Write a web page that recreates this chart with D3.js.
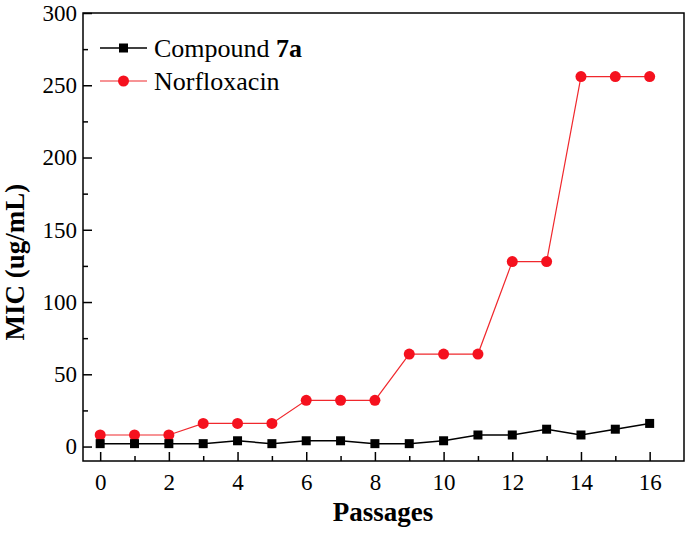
<!DOCTYPE html>
<html><head><meta charset="utf-8">
<script src="https://cdn.jsdelivr.net/npm/d3@7/dist/d3.min.js"></script>
<style>body{margin:0;background:#fff}svg{display:block}</style>
</head><body>
<script>
const passages = [0,1,2,3,4,5,6,7,8,9,10,11,12,13,14,15,16];
const compound7a = [2,2,2,2,4,2,4,4,2,2,4,8,8,12,8,12,16];
const norfloxacin = [8,8,8,16,16,16,32,32,32,64,64,64,128,128,256,256,256];
const xTicks = [0,2,4,6,8,10,12,14,16];
const yTicks = [0,50,100,150,200,250,300];

const W=688,H=544;
const L=83,R=684,T=13,B=461;
const svg=d3.select("body").append("svg").attr("width",W).attr("height",H);
const x=d3.scaleLinear().domain([-0.5,17]).range([L,R]);
const y=d3.scaleLinear().domain([-10,300]).range([B,T]);
const font="'Liberation Serif','Times New Roman',serif";

svg.append("rect").attr("x",L).attr("y",T).attr("width",R-L).attr("height",B-T)
  .attr("fill","none").attr("stroke","#000").attr("stroke-width",1.5);

const xMinor=d3.range(1,17,2);
svg.append("g").attr("transform",`translate(0,${B})`)
  .call(d3.axisBottom(x).tickValues(xTicks).tickSize(-9).tickPadding(13).tickFormat(d3.format("d")))
  .call(g=>{g.select(".domain").remove();g.selectAll("line").attr("stroke-width",1.5);
    g.selectAll("text").attr("font-family",font).attr("font-size",23).attr("fill","#000");});
svg.append("g").attr("transform",`translate(0,${B})`)
  .call(d3.axisBottom(x).tickValues(xMinor).tickSize(-5).tickFormat(""))
  .call(g=>{g.select(".domain").remove();g.selectAll("line").attr("stroke-width",1.5);});

const yMinor=d3.range(25,300,50);
svg.append("g").attr("transform",`translate(${L},0)`)
  .call(d3.axisLeft(y).tickValues(yTicks).tickSize(-9).tickPadding(6))
  .call(g=>{g.select(".domain").remove();g.selectAll("line").attr("stroke-width",1.5);
    g.selectAll("text").attr("font-family",font).attr("font-size",23).attr("fill","#000");});
svg.append("g").attr("transform",`translate(${L},0)`)
  .call(d3.axisLeft(y).tickValues(yMinor).tickSize(-5).tickFormat(""))
  .call(g=>{g.select(".domain").remove();g.selectAll("line").attr("stroke-width",1.5);});

svg.append("text").attr("x",383).attr("y",521).attr("text-anchor","middle")
  .attr("font-family",font).attr("font-weight","bold").attr("font-size",27).text("Passages");
svg.append("text").attr("transform",`translate(24,262) rotate(-90)`).attr("text-anchor","middle")
  .attr("font-family",font).attr("font-weight","bold").attr("font-size",27).text("MIC (ug/mL)");

const line=d3.line().x((d,i)=>x(passages[i])).y(d=>y(d));
svg.append("path").datum(norfloxacin).attr("d",line).attr("fill","none").attr("stroke","#f0282d").attr("stroke-width",1.2);
svg.append("g").selectAll("circle").data(norfloxacin).join("circle")
  .attr("cx",(d,i)=>x(passages[i])).attr("cy",d=>y(d)).attr("r",5.5).attr("fill","#f5111e");
svg.append("path").datum(compound7a).attr("d",line).attr("fill","none").attr("stroke","#000").attr("stroke-width",1.5);
const s=9;
svg.append("g").selectAll("rect").data(compound7a).join("rect")
  .attr("x",(d,i)=>x(passages[i])-s/2).attr("y",d=>y(d)-s/2).attr("width",s).attr("height",s).attr("fill","#000");

const lg=svg.append("g");
lg.append("line").attr("x1",100).attr("x2",147).attr("y1",48).attr("y2",48).attr("stroke","#000").attr("stroke-width",1.5);
lg.append("rect").attr("x",123.5-s/2).attr("y",48-s/2).attr("width",s).attr("height",s).attr("fill","#000");
lg.append("line").attr("x1",100).attr("x2",147).attr("y1",81).attr("y2",81).attr("stroke","#f0282d").attr("stroke-width",1.2);
lg.append("circle").attr("cx",123.5).attr("cy",81).attr("r",5.5).attr("fill","#f5111e");
const t1=lg.append("text").attr("x",154).attr("y",57).attr("font-family",font).attr("font-size",26);
t1.append("tspan").text("Compound ");
t1.append("tspan").attr("font-weight","bold").text("7a");
lg.append("text").attr("x",154).attr("y",90).attr("font-family",font).attr("font-size",26).text("Norfloxacin");
</script>
</body></html>
